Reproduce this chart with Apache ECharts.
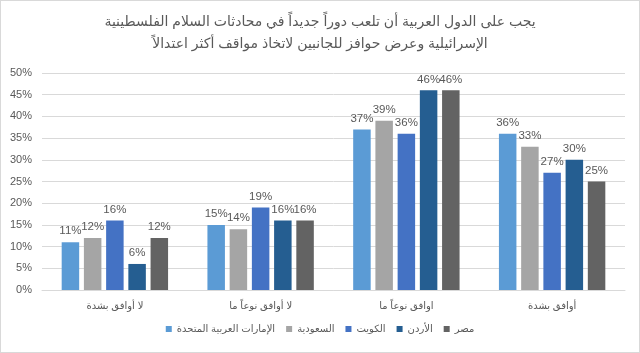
<!DOCTYPE html>
<html>
<head>
<meta charset="utf-8">
<script src="https://cdn.jsdelivr.net/npm/echarts@6/dist/echarts.min.js"></script>
<style>
  html, body { margin: 0; padding: 0; background: #fff; }
  #chart { width: 638px; height: 351px; border: 1px solid #d9d9d9; }
</style>
</head>
<body>
<div id="chart"></div>
<script>
const categories = ['لا أوافق بشدة', 'لا أوافق نوعاً ما', 'اوافق نوعاً ما', 'أوافق بشدة']
const seriesNames = ['الإمارات العربية المتحدة', 'السعودية', 'الكويت', 'الأردن', 'مصر']
const uae = [11, 15, 37, 36]
const saudi = [12, 14, 39, 33]
const kuwait = [16, 19, 36, 27]
const jordan = [6, 16, 46, 30]
const egypt = [12, 16, 46, 25]
const colors = ['#5b9bd5', '#a5a5a5', '#4472c4', '#255e91', '#636363']
const yTicks = [0, 5, 10, 15, 20, 25, 30, 35, 40, 45, 50]

const textColor = '#595959'
const font = "'Liberation Sans', 'DejaVu Sans', sans-serif"

const chart = echarts.init(document.getElementById('chart'))

const seriesData = [uae, saudi, kuwait, jordan, egypt]
const series = seriesData.map((data, i) => ({
  name: seriesNames[i],
  type: 'bar',
  data,
  barGap: '27%',
  barCategoryGap: '27%',
  itemStyle: { color: colors[i] },
  label: {
    show: true,
    position: 'top',
    distance: 5,
    formatter: p => p.value + '%',
    color: textColor,
    fontSize: 11.5,
    fontFamily: font
  }
}))

chart.setOption({
  animation: false,
  title: {
    text: 'يجب على الدول العربية أن تلعب دوراً جديداً في محادثات السلام الفلسطينية\nالإسرائيلية وعرض حوافز للجانبين لاتخاذ مواقف أكثر اعتدالاً',
    left: 'center',
    top: 5,
    textStyle: {
      color: textColor,
      fontSize: 14,
      fontWeight: 'normal',
      lineHeight: 22,
      fontFamily: font
    }
  },
  legend: {
    bottom: 13,
    left: 'center',
    itemWidth: 6,
    itemHeight: 6,
    itemGap: 11,
    icon: 'rect',
    data: seriesNames,
    textStyle: { color: textColor, fontSize: 10, fontFamily: font }
  },
  grid: { left: 41, right: 14, top: 72, bottom: 62 },
  xAxis: {
    type: 'category',
    data: categories,
    axisTick: { show: false },
    axisLine: { lineStyle: { color: '#d9d9d9' } },
    axisLabel: { color: textColor, fontSize: 10, margin: 11, fontFamily: font }
  },
  yAxis: {
    type: 'value',
    min: yTicks[0],
    max: yTicks[yTicks.length - 1],
    interval: 5,
    axisLabel: { formatter: '{value}%', color: textColor, fontSize: 11, margin: 10, fontFamily: font },
    splitLine: { lineStyle: { color: '#d9d9d9' } },
    axisLine: { show: false },
    axisTick: { show: false }
  },
  series
})
</script>
</body>
</html>
